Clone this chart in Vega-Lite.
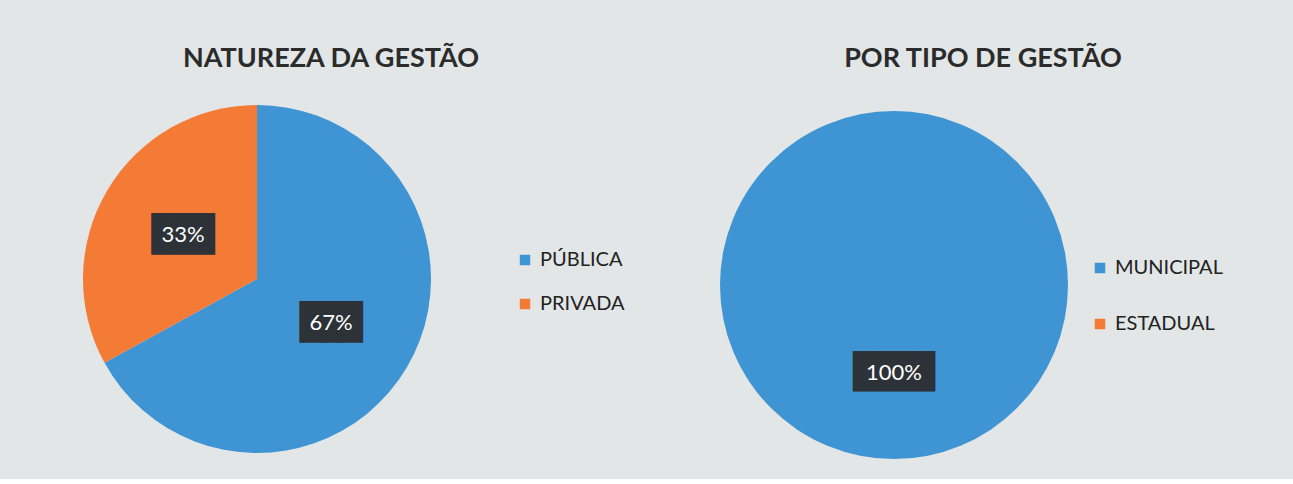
{
  "$schema": "https://vega.github.io/schema/vega-lite/v6.json",
  "background": "#e2e6e6",
  "padding": {"left": 10, "top": 45, "right": 74, "bottom": 14},
  "spacing": 95,
  "config": {
    "view": {"stroke": null},
    "title": {"font": "Lato", "fontSize": 27, "fontWeight": "bold", "color": "#2b2b2b", "anchor": "middle", "offset": 32},
    "legend": {"title": null, "symbolType": "square", "symbolSize": 110, "symbolStrokeWidth": 0, "labelFont": "Lato", "labelFontSize": 20, "labelColor": "#222222", "labelOffset": 5}
  },
  "resolve": {"scale": {"color": "independent", "theta": "independent"}, "legend": {"color": "independent"}},
  "hconcat": [
    {
      "width": 494,
      "height": 348,
      "title": {"text": "NATUREZA DA GESTÃO", "dx": 74},
      "data": {"values": [{"cat": "PÚBLICA", "value": 0.67}, {"cat": "PRIVADA", "value": 0.33}]},
      "layer": [
        {
          "mark": {"type": "arc", "stroke": null},
          "encoding": {
            "theta": {"field": "value", "type": "quantitative", "stack": true},
            "order": {"field": "value", "type": "quantitative", "sort": "descending"},
            "color": {
              "field": "cat", "type": "nominal",
              "scale": {"domain": ["PÚBLICA", "PRIVADA"], "range": ["#3f94d3", "#f47b36"]},
              "legend": {"orient": "none", "legendX": 505, "legendY": 145, "rowPadding": 24}
            }
          }
        },
        {
          "transform": [{"filter": "datum.value > 0"}],
          "mark": {"type": "text", "text": "███", "radius": 86, "font": "DejaVu Sans Mono", "fontSize": 35, "color": "#2d3238", "align": "center", "baseline": "middle"},
          "encoding": {
            "theta": {"field": "value", "type": "quantitative", "stack": true},
            "order": {"field": "value", "type": "quantitative", "sort": "descending"},
            "detail": {"field": "cat", "type": "nominal"}
          }
        },
        {
          "transform": [{"filter": "datum.value > 0"}],
          "mark": {"type": "text", "radius": 86, "font": "Lato", "fontSize": 22, "color": "#ffffff", "align": "center", "baseline": "middle"},
          "encoding": {
            "theta": {"field": "value", "type": "quantitative", "stack": true},
            "order": {"field": "value", "type": "quantitative", "sort": "descending"},
            "detail": {"field": "cat", "type": "nominal"},
            "text": {"field": "value", "type": "quantitative", "format": ".0%"}
          }
        }
      ]
    },
    {
      "width": 348,
      "height": 360,
      "title": {"text": "POR TIPO DE GESTÃO", "dx": 89},
      "data": {"values": [{"cat": "MUNICIPAL", "value": 1.0}, {"cat": "ESTADUAL", "value": 0.0}]},
      "layer": [
        {
          "mark": {"type": "arc", "stroke": null},
          "encoding": {
            "theta": {"field": "value", "type": "quantitative", "stack": true},
            "order": {"field": "value", "type": "quantitative", "sort": "descending"},
            "color": {
              "field": "cat", "type": "nominal",
              "scale": {"domain": ["MUNICIPAL", "ESTADUAL"], "range": ["#3f94d3", "#f47b36"]},
              "legend": {"orient": "none", "legendX": 370, "legendY": 153, "rowPadding": 36}
            }
          }
        },
        {
          "transform": [{"filter": "datum.value > 0"}],
          "mark": {"type": "text", "text": "████", "radius": 88, "font": "DejaVu Sans Mono", "fontSize": 34, "color": "#2d3238", "align": "center", "baseline": "middle"},
          "encoding": {
            "theta": {"field": "value", "type": "quantitative", "stack": true},
            "order": {"field": "value", "type": "quantitative", "sort": "descending"},
            "detail": {"field": "cat", "type": "nominal"}
          }
        },
        {
          "transform": [{"filter": "datum.value > 0"}],
          "mark": {"type": "text", "radius": 88, "font": "Lato", "fontSize": 22, "color": "#ffffff", "align": "center", "baseline": "middle"},
          "encoding": {
            "theta": {"field": "value", "type": "quantitative", "stack": true},
            "order": {"field": "value", "type": "quantitative", "sort": "descending"},
            "detail": {"field": "cat", "type": "nominal"},
            "text": {"field": "value", "type": "quantitative", "format": ".0%"}
          }
        }
      ]
    }
  ]
}
